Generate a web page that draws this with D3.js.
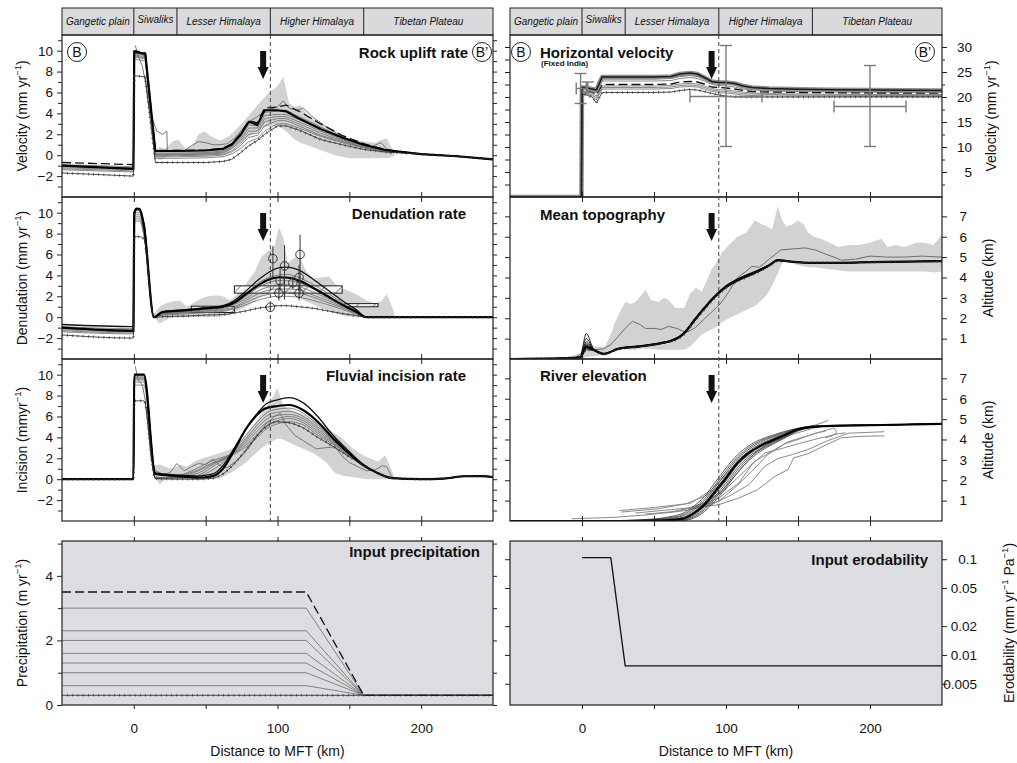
<!DOCTYPE html>
<html>
<head>
<meta charset="utf-8">
<script src="https://cdn.jsdelivr.net/npm/d3@7/dist/d3.min.js"></script>
<style>
  body { margin: 0; background: #fff; }
  svg text { font-family: "Liberation Sans", Arial, Helvetica, sans-serif; fill: #111; }
</style>
</head>
<body>
<script>
// ===================== data =====================
const distDomain = [-50, 250];
const regionBounds = [-50, 0, 30, 95, 160, 250];
const regionNames = ["Gangetic plain", "Siwaliks", "Lesser Himalaya", "Higher Himalaya", "Tibetan Plateau"];
const arrowKm = 90;
const mctKm = 95;

// Rock uplift rate (mm/yr)
const upliftX = [-50, -0.3, 0.3, 8, 15, 30, 50, 62, 68, 74, 80, 86, 91, 100, 106, 115, 130, 145, 160, 175, 200, 225, 250];
const upliftModels = [
  [-0.7, -0.9, 10.0, 9.8, 0.45, 0.45, 0.5, 0.65, 1.1, 2.0, 3.3, 3.1, 4.5, 4.6, 4.8, 4.2, 3.0, 1.9, 1.1, 0.55, 0.1, -0.1, -0.4],
  [-1.0, -1.3, 9.9, 9.7, 0.4, 0.4, 0.45, 0.6, 1.0, 1.9, 3.2, 2.9, 4.3, 4.3, 4.2, 3.5, 2.5, 1.7, 1.0, 0.5, 0.1, -0.1, -0.4],
  [-0.9, -1.1, 9.8, 9.6, 0.2, 0.2, 0.25, 0.4, 0.8, 1.7, 2.9, 2.8, 4.1, 4.2, 4.3, 3.7, 2.7, 1.7, 1.0, 0.5, 0.1, -0.1, -0.4],
  [-1.0, -1.2, 9.7, 9.5, 0.1, 0.1, 0.15, 0.3, 0.7, 1.5, 2.6, 2.6, 3.8, 3.9, 3.9, 3.4, 2.5, 1.6, 0.9, 0.5, 0.1, -0.1, -0.4],
  [-1.1, -1.3, 9.6, 9.4, 0.05, 0.05, 0.1, 0.2, 0.6, 1.3, 2.3, 2.3, 3.5, 3.7, 3.7, 3.2, 2.3, 1.5, 0.9, 0.45, 0.1, -0.1, -0.4],
  [-1.2, -1.4, 9.5, 9.3, -0.05, -0.05, 0.0, 0.1, 0.4, 1.1, 2.0, 2.1, 3.2, 3.5, 3.5, 3.0, 2.1, 1.4, 0.8, 0.4, 0.1, -0.1, -0.4],
  [-1.3, -1.5, 9.4, 9.2, -0.15, -0.15, -0.1, 0.0, 0.3, 0.9, 1.7, 1.9, 2.8, 3.3, 3.3, 2.8, 1.9, 1.3, 0.75, 0.4, 0.1, -0.1, -0.4],
  [-1.4, -1.6, 9.2, 9.0, -0.3, -0.3, -0.25, -0.15, 0.1, 0.6, 1.3, 1.6, 2.3, 3.0, 3.0, 2.6, 1.8, 1.2, 0.7, 0.35, 0.1, -0.1, -0.4],
  [-1.7, -2.0, 7.6, 7.5, -0.7, -0.7, -0.7, -0.6, -0.4, 0.2, 0.9, 1.4, 2.0, 2.8, 2.8, 2.4, 1.5, 1.0, 0.55, 0.3, 0.1, -0.1, -0.4]
];
const upBandX = [15, 18, 22, 27, 31, 36, 41, 45, 49, 54, 60, 66, 70, 75, 80, 85, 90, 95, 100, 104, 108, 112, 116, 120, 126, 132, 140, 150, 160, 168, 173, 176, 179, 182];
const upBandHi = [0.5, 0.8, 0.6, 1.3, 1.5, 0.6, 0.9, 2.0, 2.3, 1.8, 1.4, 1.8, 2.3, 3.0, 3.8, 4.6, 5.4, 6.1, 6.6, 7.5, 5.0, 4.6, 4.8, 4.0, 3.4, 2.8, 2.2, 1.6, 1.3, 1.2, 1.5, 1.6, 0.8, 0.0];
const upBandLo = [0.0, -0.5, -0.2, 0.0, 0.0, -0.1, 0.0, 0.0, 0.0, 0.0, 0.1, 0.4, 0.8, 1.3, 1.8, 2.2, 2.6, 2.8, 2.8, 2.5, 2.0, 1.5, 1.2, 1.0, 0.7, 0.4, 0.0, -0.3, -0.3, -0.3, -0.3, -0.3, -0.2, 0.0];
const upObsX = [1, 3, 6, 8, 11, 16, 20, 23, 23.3, 30, 35, 40, 45, 50, 55, 60, 65, 70, 75, 80, 85, 90, 95, 100, 104, 108, 113, 118, 125, 135, 145, 155, 165, 172, 176, 179];
const upObsY = [10.5, 9.5, 8.5, 7.0, 4.2, 2.3, 2.0, 2.3, 0.4, 0.5, 0.4, 0.9, 1.3, 1.2, 1.0, 1.0, 1.1, 1.6, 2.4, 3.2, 3.6, 4.1, 4.4, 4.6, 5.2, 4.5, 4.3, 4.5, 3.6, 2.6, 1.8, 1.1, 0.8, 1.2, 0.6, 0.1];

// Denudation rate (mm/yr)
const denX = [-50, -0.3, 0.3, 2, 4, 7, 14, 20, 35, 50, 62, 70, 78, 86, 94, 100, 106, 115, 125, 135, 145, 155, 162, 200, 250];
const denModels = [
  [-0.7, -0.9, 9.8, 10.3, 10.4, 9.0, 0.0, 0.5, 0.7, 0.9, 1.1, 1.6, 2.5, 3.5, 4.3, 4.7, 4.8, 4.5, 3.6, 2.6, 1.6, 0.7, 0.0, 0, 0],
  [-1.0, -1.3, 10.0, 10.4, 10.3, 8.8, 0.0, 0.5, 0.65, 0.85, 1.0, 1.4, 2.2, 3.0, 3.6, 3.8, 3.8, 3.5, 2.8, 2.0, 1.2, 0.5, 0.0, 0, 0],
  [-0.9, -1.1, 9.9, 10.2, 10.2, 8.9, 0.0, 0.45, 0.6, 0.8, 1.0, 1.5, 2.3, 3.2, 3.8, 4.0, 4.1, 3.8, 3.1, 2.3, 1.4, 0.6, 0.0, 0, 0],
  [-1.0, -1.2, 9.7, 10.0, 10.0, 8.6, 0.0, 0.4, 0.55, 0.75, 0.9, 1.3, 2.0, 2.8, 3.3, 3.5, 3.5, 3.3, 2.7, 2.0, 1.2, 0.5, 0.0, 0, 0],
  [-1.1, -1.3, 9.5, 9.8, 9.8, 8.4, 0.0, 0.35, 0.5, 0.7, 0.85, 1.2, 1.8, 2.5, 2.9, 3.1, 3.1, 2.9, 2.4, 1.8, 1.1, 0.45, 0.0, 0, 0],
  [-1.2, -1.4, 9.3, 9.6, 9.6, 8.2, 0.0, 0.3, 0.45, 0.6, 0.75, 1.0, 1.6, 2.2, 2.6, 2.7, 2.7, 2.6, 2.1, 1.6, 1.0, 0.4, 0.0, 0, 0],
  [-1.3, -1.5, 9.1, 9.4, 9.4, 8.0, 0.0, 0.25, 0.4, 0.55, 0.65, 0.9, 1.4, 1.9, 2.2, 2.4, 2.4, 2.3, 1.9, 1.4, 0.9, 0.35, 0.0, 0, 0],
  [-1.4, -1.6, 8.9, 9.2, 9.2, 7.8, 0.0, 0.2, 0.3, 0.45, 0.55, 0.8, 1.2, 1.6, 1.9, 2.0, 2.0, 1.9, 1.6, 1.2, 0.75, 0.3, 0.0, 0, 0],
  [-1.7, -2.0, 7.7, 7.7, 7.7, 7.5, 0.0, 0.05, 0.1, 0.2, 0.25, 0.4, 0.6, 0.85, 1.0, 1.1, 1.1, 1.0, 0.85, 0.6, 0.35, 0.15, 0.0, 0, 0]
];
const denBandX = [14, 18, 22, 27, 32, 37, 42, 47, 52, 57, 62, 67, 72, 78, 84, 89, 94, 98, 101, 104, 107, 110, 113, 116, 120, 125, 130, 136, 142, 148, 155, 162, 168, 172, 176, 179, 182];
const denBandHi = [0.3, 1.0, 1.3, 1.5, 1.6, 1.0, 1.4, 1.8, 2.0, 2.1, 2.0, 1.6, 2.2, 3.2, 4.3, 5.8, 6.4, 6.8, 8.6, 7.6, 5.2, 5.5, 5.8, 5.6, 4.4, 3.7, 3.8, 3.9, 2.9, 2.6, 2.2, 1.6, 1.3, 1.5, 2.2, 1.3, 0.0];
const denBandLo = [0.0, -0.6, -0.3, 0.0, 0.0, 0.0, 0.0, 0.0, 0.0, 0.0, 0.1, 0.3, 0.6, 1.0, 1.5, 2.0, 2.3, 2.4, 2.4, 2.4, 2.3, 2.2, 2.0, 1.8, 1.5, 1.2, 0.9, 0.6, 0.3, 0.1, 0.0, 0.0, 0.0, 0.0, 0.0, 0.0, 0.0];
// thermochronology-derived denudation rates
const thermoX = [96.8, 104.9, 115.7, 101.8, 101, 115, 115, 95, 110.7];
const thermoY = [5.6, 4.9, 6.0, 3.5, 2.3, 3.8, 2.3, 0.95, 3.3];
const thermoLo = [3.8, 1.7, 2.2, 2.5, 1.6, 2.6, 1.6, 0.7, 2.7];
const thermoHi = [6.8, 6.9, 7.9, 4.6, 3.2, 5.0, 3.1, 1.2, 3.9];
// long-term denudation ranges (hatched boxes)
const boxX0 = [40, 70, 147];
const boxX1 = [70, 145, 170];
const boxY0 = [0.45, 2.3, 1.0];
const boxY1 = [1.05, 3.0, 1.3];

// Fluvial incision rate (mm/yr)
const incX = [-50, -0.3, 0.3, 7, 15, 30, 45, 55, 62, 70, 78, 86, 92, 100, 108, 118, 128, 138, 148, 158, 168, 180, 200, 215, 230, 242, 250];
const incModels = [
  [0, 0, 10.0, 10.0, 0.6, 0.4, 0.3, 0.5, 1.3, 3.0, 4.8, 6.3, 7.2, 7.6, 7.8, 7.3, 6.0, 4.3, 2.9, 1.6, 0.7, 0.1, 0, 0.05, 0.28, 0.3, 0.2],
  [0, 0, 10.0, 10.0, 0.5, 0.3, 0.15, 0.3, 1.0, 2.8, 4.8, 6.2, 6.8, 7.0, 7.1, 6.6, 5.5, 4.0, 2.7, 1.5, 0.7, 0.1, 0, 0.05, 0.28, 0.3, 0.2],
  [0, 0, 9.8, 9.8, 0.2, 0.1, 0.3, 0.9, 1.6, 2.8, 4.2, 5.5, 6.3, 6.7, 6.8, 6.3, 5.2, 3.9, 2.7, 1.5, 0.7, 0.1, 0, 0.05, 0.28, 0.3, 0.2],
  [0, 0, 9.7, 9.7, 0.1, 0.1, 0.4, 1.2, 1.8, 2.7, 3.9, 5.2, 6.0, 6.4, 6.5, 6.0, 5.0, 3.8, 2.6, 1.5, 0.7, 0.1, 0, 0.05, 0.28, 0.3, 0.2],
  [0, 0, 9.6, 9.6, 0.1, 0.2, 0.6, 1.4, 1.9, 2.6, 3.7, 4.9, 5.7, 6.1, 6.2, 5.8, 4.8, 3.7, 2.6, 1.5, 0.7, 0.1, 0, 0.05, 0.28, 0.3, 0.2],
  [0, 0, 9.5, 9.5, 0.1, 0.3, 0.9, 1.6, 2.0, 2.6, 3.5, 4.6, 5.4, 5.8, 6.0, 5.6, 4.6, 3.6, 2.5, 1.5, 0.7, 0.1, 0, 0.05, 0.28, 0.3, 0.2],
  [0, 0, 9.3, 9.3, 0.1, 0.3, 1.1, 1.8, 2.1, 2.5, 3.3, 4.3, 5.1, 5.6, 5.8, 5.4, 4.4, 3.5, 2.5, 1.5, 0.7, 0.1, 0, 0.05, 0.28, 0.3, 0.2],
  [0, 0, 9.0, 9.0, 0.1, 0.2, 0.8, 1.5, 1.9, 2.4, 3.1, 4.0, 4.8, 5.3, 5.5, 5.2, 4.2, 3.4, 2.4, 1.5, 0.7, 0.1, 0, 0.05, 0.28, 0.3, 0.2],
  [0, 0, 7.5, 7.5, 0.05, 0.0, 0.0, 0.1, 0.5, 1.5, 2.8, 4.2, 5.0, 5.5, 5.4, 4.9, 4.0, 3.2, 2.3, 1.5, 0.7, 0.1, 0, 0.05, 0.28, 0.3, 0.2]
];
const incBandX = [14, 18, 22, 27, 32, 37, 42, 48, 55, 62, 70, 78, 85, 90, 95, 100, 104, 110, 118, 126, 134, 140, 146, 152, 158, 164, 170, 175, 179, 182];
const incBandHi = [1.3, 1.4, 1.2, 1.0, 1.4, 1.2, 1.7, 2.0, 2.3, 2.6, 3.0, 4.2, 5.5, 6.5, 7.4, 8.7, 7.0, 6.6, 6.2, 5.6, 4.9, 4.4, 3.8, 3.0, 2.4, 2.0, 1.7, 2.3, 1.0, 0.0];
const incBandLo = [0.3, -0.5, 0.0, 0.0, 0.0, 0.0, 0.0, 0.0, 0.0, 0.2, 0.8, 1.6, 2.5, 3.1, 3.5, 3.9, 3.8, 3.4, 2.9, 2.4, 1.6, 0.6, 0.3, 0.2, 0.1, 0.0, 0.0, 0.0, 0.0, 0.0];
const incObsX = [1, 3, 6, 8, 12, 15, 20, 25, 30, 35, 40, 45, 50, 55, 60, 65, 70, 75, 80, 86, 92, 98, 102, 106, 112, 120, 127, 133, 140, 145, 150, 156, 162, 168, 173, 176, 180];
const incObsY = [10.8, 9.5, 9.0, 7.5, 2.0, 0.8, 0.5, 0.6, 1.5, 0.8, 1.2, 1.5, 1.4, 1.9, 1.3, 1.1, 1.6, 2.2, 3.0, 4.2, 5.3, 6.0, 6.3, 5.2, 4.2, 3.5, 2.9, 3.0, 3.1, 2.2, 1.6, 1.2, 0.8, 0.9, 1.3, 1.2, 0.1];

// Input precipitation (m/yr)
const precipX = [-50, 120, 160, 250];
const precipRows = [
  [3.5, 3.5, 0.3, 0.3],
  [3.0, 3.0, 0.3, 0.3],
  [2.3, 2.3, 0.3, 0.3],
  [2.0, 2.0, 0.3, 0.3],
  [1.6, 1.6, 0.3, 0.3],
  [1.3, 1.3, 0.3, 0.3],
  [1.0, 1.0, 0.3, 0.3],
  [0.6, 0.6, 0.3, 0.3],
  [0.3, 0.3, 0.3, 0.3]
];

// Horizontal velocity, fixed India (mm/yr)
const hvX = [-50, -0.4, 0, 2, 7, 10, 14, 30, 50, 62, 68, 75, 80, 85, 90, 95, 100, 106, 112, 118, 130, 150, 175, 200, 225, 250];
const hvModels = [
  [0, 0, 21.9, 21.9, 21.6, 21.4, 24.0, 24.0, 24.0, 24.1, 24.6, 24.8, 24.6, 23.9, 23.1, 22.9, 22.9, 22.7, 22.2, 21.9, 21.7, 21.55, 21.45, 21.4, 21.35, 21.3],
  [0, 0, 21.7, 21.7, 21.4, 21.1, 23.6, 23.6, 23.6, 23.7, 24.1, 24.3, 24.1, 23.5, 22.8, 22.6, 22.6, 22.4, 21.9, 21.6, 21.4, 21.3, 21.2, 21.15, 21.1, 21.05],
  [0, 0, 21.5, 21.5, 21.2, 20.8, 23.2, 23.2, 23.2, 23.3, 23.7, 23.9, 23.7, 23.2, 22.5, 22.3, 22.2, 22.0, 21.6, 21.4, 21.2, 21.1, 21.0, 20.95, 20.9, 20.9],
  [0, 0, 21.3, 21.3, 21.0, 20.5, 22.5, 22.5, 22.5, 22.6, 23.0, 23.1, 23.0, 22.6, 22.0, 21.9, 21.8, 21.6, 21.3, 21.1, 21.0, 20.9, 20.85, 20.8, 20.8, 20.8],
  [0, 0, 21.1, 21.1, 20.8, 20.2, 22.2, 22.2, 22.2, 22.3, 22.6, 22.7, 22.6, 22.2, 21.7, 21.5, 21.4, 21.2, 21.0, 20.8, 20.7, 20.6, 20.55, 20.5, 20.5, 20.5],
  [0, 0, 20.9, 20.9, 20.5, 19.8, 21.9, 21.9, 21.9, 22.0, 22.3, 22.4, 22.3, 21.9, 21.4, 21.2, 21.1, 20.9, 20.7, 20.6, 20.5, 20.4, 20.35, 20.3, 20.3, 20.3],
  [0, 0, 20.7, 20.7, 20.3, 19.4, 21.6, 21.6, 21.6, 21.7, 22.0, 22.1, 22.0, 21.6, 21.1, 20.9, 20.8, 20.6, 20.4, 20.3, 20.2, 20.2, 20.15, 20.1, 20.1, 20.1],
  [0, 0, 20.5, 20.5, 20.0, 18.8, 20.9, 20.9, 20.9, 21.0, 21.3, 21.5, 21.4, 21.1, 20.7, 20.4, 20.2, 20.0, 20.0, 20.0, 20.0, 20.0, 20.0, 20.0, 20.0, 20.0]
];
// GPS velocities with error bars
const gpsX = [-1, 4, 100, 200];
const gpsY = [21.7, 22.0, 20.1, 18.1];
const gpsXLo = [-4, 4, 75, 175];
const gpsXHi = [3, 4, 125, 225];
const gpsYLo = [18.7, 21.0, 10.1, 10.1];
const gpsYHi = [24.7, 23.0, 30.3, 26.3];

// Mean topography (km)
const topoX = [-50, -20, -1, 0.5, 3, 8, 15, 25, 40, 55, 62, 68, 72, 78, 85, 92, 100, 110, 120, 130, 136, 145, 160, 180, 200, 225, 250];
const topoModels = [
  [0, 0.02, 0.1, 0.6, 1.25, 0.5, 0.27, 0.52, 0.64, 0.8, 0.92, 1.14, 1.4, 1.95, 2.55, 3.1, 3.6, 4.0, 4.3, 4.62, 4.86, 4.78, 4.72, 4.72, 4.75, 4.78, 4.8],
  [0, 0.02, 0.09, 0.5, 1.0, 0.48, 0.26, 0.51, 0.63, 0.79, 0.91, 1.12, 1.38, 1.93, 2.52, 3.07, 3.58, 3.98, 4.28, 4.61, 4.85, 4.78, 4.72, 4.72, 4.75, 4.78, 4.8],
  [0, 0.02, 0.09, 0.4, 0.85, 0.47, 0.25, 0.5, 0.62, 0.78, 0.9, 1.1, 1.36, 1.91, 2.5, 3.05, 3.56, 3.96, 4.26, 4.6, 4.85, 4.78, 4.72, 4.72, 4.75, 4.78, 4.8],
  [0, 0.02, 0.08, 0.35, 0.75, 0.46, 0.25, 0.5, 0.62, 0.78, 0.9, 1.1, 1.35, 1.9, 2.5, 3.05, 3.55, 3.95, 4.25, 4.6, 4.85, 4.78, 4.72, 4.72, 4.75, 4.78, 4.8],
  [0, 0.02, 0.08, 0.3, 0.62, 0.45, 0.25, 0.5, 0.62, 0.78, 0.9, 1.1, 1.35, 1.9, 2.5, 3.05, 3.55, 3.95, 4.25, 4.6, 4.85, 4.78, 4.72, 4.72, 4.75, 4.78, 4.8],
  [0, 0.02, 0.07, 0.28, 0.58, 0.44, 0.24, 0.49, 0.61, 0.77, 0.89, 1.08, 1.33, 1.88, 2.48, 3.03, 3.53, 3.93, 4.23, 4.59, 4.84, 4.78, 4.72, 4.72, 4.75, 4.78, 4.8],
  [0, 0.02, 0.07, 0.25, 0.55, 0.43, 0.24, 0.49, 0.61, 0.77, 0.88, 1.07, 1.32, 1.87, 2.47, 3.02, 3.52, 3.92, 4.22, 4.58, 4.84, 4.78, 4.72, 4.72, 4.75, 4.78, 4.8],
  [0, 0.02, 0.06, 0.22, 0.5, 0.42, 0.23, 0.48, 0.6, 0.76, 0.87, 1.06, 1.3, 1.85, 2.45, 3.0, 3.5, 3.9, 4.2, 4.57, 4.83, 4.77, 4.72, 4.72, 4.75, 4.78, 4.8],
  [0, 0.02, 0.06, 0.2, 0.45, 0.41, 0.23, 0.48, 0.6, 0.76, 0.87, 1.05, 1.28, 1.83, 2.43, 2.98, 3.48, 3.88, 4.18, 4.56, 4.82, 4.77, 4.72, 4.72, 4.75, 4.78, 4.8]
];
const topoBandX = [-50, -10, 0, 3, 10, 16, 20, 23, 27, 30, 34, 37, 41, 44, 48, 53, 57, 60, 65, 71, 75, 79, 83, 87, 90, 94, 97, 102, 108, 114, 120, 125, 129, 132, 136, 139, 142, 146, 150, 154, 157, 161, 166, 172, 178, 185, 192, 200, 208, 212, 218, 224, 232, 238, 244, 250];
const topoBandHi = [0.05, 0.1, 0.3, 0.8, 0.6, 0.6, 1.2, 1.8, 2.4, 2.8, 2.7, 2.8, 3.1, 3.4, 2.9, 2.8, 3.0, 2.9, 2.5, 2.5, 3.2, 3.5, 3.3, 3.9, 4.4, 4.8, 5.2, 5.6, 6.0, 6.2, 6.8, 6.6, 6.5, 6.35, 7.5, 6.8, 6.5, 6.6, 6.8, 6.6, 6.2, 6.0, 5.9, 5.7, 5.5, 5.6, 5.6, 5.7, 5.9, 5.5, 5.6, 5.5, 5.7, 5.7, 5.6, 6.1];
const topoBandLo = [0, 0, 0.05, 0.1, 0.15, 0.3, 0.45, 0.5, 0.5, 0.5, 0.45, 0.45, 0.5, 0.5, 0.5, 0.45, 0.45, 0.45, 0.45, 0.45, 0.6, 0.9, 1.2, 1.35, 1.45, 1.6, 1.8, 2.0, 2.2, 2.4, 2.6, 2.9, 3.2, 3.6, 4.2, 4.7, 4.9, 4.7, 4.6, 4.55, 4.5, 4.5, 4.45, 4.4, 4.35, 4.3, 4.3, 4.3, 4.3, 4.3, 4.3, 4.3, 4.3, 4.3, 4.25, 4.3];
const topoObsX = [-50, -5, 0, 3, 8, 15, 20, 25, 30, 35, 40, 44, 50, 55, 60, 66, 72, 78, 84, 90, 96, 102, 108, 114, 118, 123, 130, 138, 146, 155, 162, 169, 175, 180, 190, 200, 212, 224, 236, 250];
const topoObsY = [0.02, 0.05, 0.3, 0.7, 0.45, 0.5, 0.7, 1.1, 1.5, 1.85, 1.7, 1.5, 1.5, 1.45, 1.6, 1.5, 1.3, 1.5, 1.9, 2.3, 2.7, 3.3, 4.0, 4.3, 4.55, 4.5, 4.9, 5.35, 5.4, 5.45, 5.35, 5.15, 5.0, 4.85, 4.9, 5.05, 5.0, 5.0, 5.05, 5.0];

// River elevation (km)
const riverX = [-50, 0, 30, 50, 60, 70, 78, 85, 92, 100, 108, 116, 124, 132, 140, 150, 160, 170, 180, 200, 250];
const riverModels = [
  [0, 0, 0.03, 0.1, 0.2, 0.38, 0.75, 1.2, 1.85, 2.6, 3.25, 3.7, 4.0, 4.2, 4.38, 4.55, 4.64, 4.67, 4.69, 4.71, 4.77],
  [0, 0, 0.02, 0.08, 0.16, 0.31, 0.65, 1.08, 1.72, 2.47, 3.14, 3.61, 3.94, 4.15, 4.34, 4.54, 4.63, 4.67, 4.69, 4.71, 4.77],
  [0, 0, 0.01, 0.06, 0.12, 0.25, 0.56, 0.98, 1.6, 2.35, 3.05, 3.53, 3.87, 4.1, 4.3, 4.53, 4.63, 4.66, 4.68, 4.7, 4.77],
  [0, 0, 0, 0.04, 0.08, 0.18, 0.48, 0.89, 1.5, 2.22, 2.95, 3.44, 3.79, 4.03, 4.25, 4.51, 4.62, 4.66, 4.68, 4.7, 4.77],
  [0, 0, 0, 0.02, 0.05, 0.12, 0.4, 0.8, 1.4, 2.1, 2.85, 3.35, 3.7, 3.95, 4.2, 4.5, 4.62, 4.66, 4.68, 4.7, 4.77],
  [0, 0, 0, 0.01, 0.03, 0.09, 0.33, 0.71, 1.29, 1.98, 2.74, 3.26, 3.63, 3.9, 4.16, 4.48, 4.61, 4.66, 4.68, 4.7, 4.77],
  [0, 0, 0, 0, 0.02, 0.06, 0.27, 0.62, 1.18, 1.86, 2.62, 3.17, 3.56, 3.85, 4.12, 4.46, 4.6, 4.65, 4.68, 4.7, 4.77],
  [0, 0, 0, 0, 0.01, 0.04, 0.21, 0.54, 1.07, 1.74, 2.5, 3.08, 3.49, 3.8, 4.08, 4.44, 4.6, 4.65, 4.68, 4.7, 4.77],
  [0, 0, 0, 0, 0, 0.02, 0.15, 0.46, 0.96, 1.62, 2.38, 2.98, 3.42, 3.75, 4.04, 4.42, 4.59, 4.65, 4.68, 4.7, 4.77]
];
// measured river long profiles: distances and elevations
const profile1X = [26, 51, 72, 85, 95, 106, 118, 132, 146, 158, 161];
const profile1Y = [0.51, 0.67, 0.84, 1.21, 1.70, 2.69, 3.42, 4.0, 4.38, 4.65, 4.70];
const profile2X = [27.5, 53, 76, 90, 102, 113, 127, 141, 155, 170, 171];
const profile2Y = [0.44, 0.6, 0.89, 1.54, 2.44, 3.26, 3.79, 4.25, 4.54, 4.9, 4.98];
const profile3X = [-7, 23, 46, 67, 85, 97, 109, 120, 132, 143, 160, 175, 177, 173, 169];
const profile3Y = [0.11, 0.18, 0.31, 0.47, 0.89, 1.38, 2.19, 2.93, 3.42, 3.89, 4.25, 4.57, 4.33, 4.16, 4.08];
const profile4X = [37, 62, 85, 95, 109, 122, 134, 143, 147, 157, 169, 180, 192, 210];
const profile4Y = [0.39, 0.56, 0.72, 0.8, 1.13, 1.54, 2.19, 2.52, 3.1, 3.3, 3.72, 4.08, 4.15, 4.18];
const profile5X = [44, 72, 90, 104, 116, 127, 136, 146, 157, 171, 185, 210];
const profile5Y = [0.34, 0.51, 0.8, 1.29, 1.79, 2.69, 3.06, 3.26, 3.51, 3.95, 4.31, 4.38];
const profile6X = [76, 95, 109, 118, 127, 139, 150, 164, 178, 183];
const profile6Y = [0.6, 1.13, 1.87, 2.77, 3.34, 3.56, 3.79, 4.05, 4.28, 4.33];
const profile7X = [85, 97, 109, 120, 132, 146, 157, 164];
const profile7Y = [0.89, 1.46, 2.44, 3.34, 3.89, 4.25, 4.48, 4.61];
const profile8X = [58, 81, 95, 106, 118, 129, 141, 150, 162, 169];
const profile8Y = [0.39, 0.72, 0.97, 1.62, 2.44, 3.26, 3.79, 4.0, 4.31, 4.41];

// Input erodability (mm/yr/Pa)
const erodX = [0, 20, 30, 250];
const erodY = [0.104, 0.104, 0.0077, 0.0077];

// Axis ticks
const distTicks = [0, 100, 200];
const distMinor = [50, 150];
const rateTicks = [-2, 0, 2, 4, 6, 8, 10];
const rateMinor = [-3, -1, 1, 3, 5, 7, 9, 11];
const rateAll = [-3, -2, -1, 0, 1, 2, 3, 4, 5, 6, 7, 8, 9, 10, 11];
const precipTicks = [0, 2, 4];
const precipMinor = [1, 3, 5];
const hvTicks = [5, 10, 15, 20, 25, 30];
const hvMinor = [2.5, 7.5, 12.5, 17.5, 22.5, 27.5];
const altTicks = [1, 2, 3, 4, 5, 6, 7];
const erodTicks = [0.005, 0.01, 0.02, 0.05, 0.1];
const erodTickLabels = ["0.005", "0.01", "0.02", "0.05", "0.1"];

// ===================== drawing =====================
const W = 1017, H = 763;
const colL = [62, 493], colR = [510, 942];
const rowY = [[35, 197], [197, 359], [359, 521], [541, 705]];
const headerY = [8, 35];
const BAND = "#d1d2d4";
const PANEL_BG = "#dcdde0";
const intFmt = d3.format("d");

const svg = d3.select("body").append("svg").attr("width", W).attr("height", H);
const defs = svg.append("defs");
const hatch = defs.append("pattern").attr("id", "hatch")
  .attr("patternUnits", "userSpaceOnUse").attr("width", 12).attr("height", 12)
  .attr("patternTransform", "rotate(45)");
hatch.append("rect").attr("width", 12).attr("height", 12).attr("fill", "#fff").attr("fill-opacity", 0.75);
hatch.append("line").attr("x1", 0).attr("y1", 0).attr("x2", 0).attr("y2", 12)
  .attr("stroke", "#222").attr("stroke-width", 1);

let clipCount = 0;
function makePanel(xr, yr, yDomain, log) {
  const x = d3.scaleLinear().domain(distDomain).range(xr);
  const y = (log ? d3.scaleLog() : d3.scaleLinear()).domain(yDomain).range([yr[1], yr[0]]);
  const id = "clip" + (clipCount++);
  defs.append("clipPath").attr("id", id).append("rect")
    .attr("x", xr[0]).attr("y", yr[0]).attr("width", xr[1] - xr[0]).attr("height", yr[1] - yr[0]);
  const g = svg.append("g").attr("clip-path", `url(#${id})`);
  return { x, y, g, xr, yr };
}

function background(p, color) {
  p.g.append("rect").attr("x", p.xr[0]).attr("y", p.yr[0])
    .attr("width", p.xr[1] - p.xr[0]).attr("height", p.yr[1] - p.yr[0]).attr("fill", color);
}

function band(p, xs, lo, hi) {
  const area = d3.area().x(d => p.x(d)).y0((d, i) => p.y(lo[i])).y1((d, i) => p.y(hi[i]));
  p.g.append("path").datum(xs).attr("d", area).attr("fill", BAND);
}

function thinLine(p, xs, ys, color, w) {
  const gen = d3.line().x((d, i) => p.x(xs[i])).y(d => p.y(d));
  p.g.append("path").datum(ys).attr("d", gen).attr("fill", "none")
    .attr("stroke", color).attr("stroke-width", w).attr("stroke-linejoin", "round");
}

const STYLE = {
  thin: { stroke: "#6b6b6b", w: 0.8 },
  dark: { stroke: "#3a3a3a", w: 0.8 },
  black: { stroke: "#111", w: 0.9 },
  dash: { stroke: "#111", w: 1.3, dash: "9,4" },
  thick: { stroke: "#000", w: 2.2 },
  solid: { stroke: "#111", w: 1.3 }
};
const drawOrder = ["thin", "dark", "black", "solid", "dash", "halo", "thick", "tick"];
function family(p, xs, rows, styles, curve) {
  const gen = d3.line().x((d, i) => p.x(xs[i])).y(d => p.y(d)).curve(curve || d3.curveLinear);
  drawOrder.forEach(kind => rows.forEach((r, i) => {
    if (styles[i] !== kind) return;
    const d = gen(r);
    const add = () => p.g.append("path").attr("d", d).attr("fill", "none").attr("stroke-linejoin", "round");
    if (kind === "halo") {
      add().attr("stroke", "#8f8f8f").attr("stroke-width", 4.5);
      add().attr("stroke", "#1a1a1a").attr("stroke-width", 1.6);
    } else if (kind === "tick") {
      add().attr("stroke", "#222").attr("stroke-width", 0.8);
      add().attr("stroke", "#333").attr("stroke-width", 2.6).attr("stroke-dasharray", "0.7,4.5");
    } else {
      const s = STYLE[kind];
      const path = add().attr("stroke", s.stroke).attr("stroke-width", s.w);
      if (s.dash) path.attr("stroke-dasharray", s.dash);
    }
  }));
}

function frame(p) {
  svg.append("rect").attr("x", p.xr[0]).attr("y", p.yr[0])
    .attr("width", p.xr[1] - p.xr[0]).attr("height", p.yr[1] - p.yr[0])
    .attr("fill", "none").attr("stroke", "#222").attr("stroke-width", 1.2);
}

function styleAxis(g, size) {
  g.select(".domain").remove();
  g.attr("font-size", size || 13.5).attr("font-family", null);
  g.selectAll("line").attr("stroke", "#222").attr("stroke-width", 1);
  g.selectAll("text").attr("fill", "#111");
}

function axisAt(axis, tx, ty, size) {
  const g = svg.append("g").attr("transform", `translate(${tx},${ty})`).call(axis);
  styleAxis(g, size);
  return g;
}

function arrow(p, km) {
  const cx = p.x(km), t = p.yr[0] + 16;
  const pts = [[cx - 3, t], [cx + 3, t], [cx + 3, t + 16], [cx + 5.5, t + 16], [cx, t + 28], [cx - 5.5, t + 16], [cx - 3, t + 16]];
  svg.append("path").attr("d", d3.line()(pts) + "Z").attr("fill", "#111");
}

function title(x, y, txt, anchor, size) {
  svg.append("text").attr("x", x).attr("y", y).attr("text-anchor", anchor)
    .attr("font-size", size || 15).attr("font-weight", "bold").text(txt);
}

function circled(cx, cy, txt) {
  svg.append("circle").attr("cx", cx).attr("cy", cy).attr("r", 9.5)
    .attr("fill", "#fff").attr("stroke", "#222").attr("stroke-width", 1);
  svg.append("text").attr("x", cx).attr("y", cy + 5).attr("text-anchor", "middle")
    .attr("font-size", 14).text(txt);
}

// rotated axis title; parts are [text, isSuperscript]
function yTitle(cx, cy, parts) {
  const t = svg.append("text").attr("transform", `translate(${cx + 5},${cy}) rotate(-90)`)
    .attr("text-anchor", "middle").attr("font-size", 14);
  let raised = false;
  parts.forEach(([s, sup]) => {
    const ts = t.append("tspan").text(s);
    if (sup && !raised) { ts.attr("font-size", 9.5).attr("dy", -6); raised = true; }
    else if (!sup && raised) { ts.attr("dy", 6); raised = false; }
    else if (sup) ts.attr("font-size", 9.5);
  });
}

function header(xr) {
  const x = d3.scaleLinear().domain(distDomain).range(xr);
  svg.append("rect").attr("x", xr[0]).attr("y", headerY[0]).attr("width", xr[1] - xr[0])
    .attr("height", headerY[1] - headerY[0]).attr("fill", "#dadadc").attr("stroke", "#222").attr("stroke-width", 1);
  regionBounds.slice(1, -1).forEach(b => {
    svg.append("line").attr("x1", x(b)).attr("x2", x(b)).attr("y1", headerY[0]).attr("y2", headerY[1])
      .attr("stroke", "#222").attr("stroke-width", 1);
  });
  regionNames.forEach((n, i) => {
    svg.append("text").attr("x", (x(regionBounds[i]) + x(regionBounds[i + 1])) / 2)
      .attr("y", i === 1 ? 23 : 25).attr("text-anchor", "middle")
      .attr("font-size", 10).attr("font-style", "italic").text(n);
  });
}

function mctLine(p) {
  svg.append("line").attr("x1", p.x(mctKm)).attr("x2", p.x(mctKm))
    .attr("y1", rowY[0][0]).attr("y2", rowY[2][1])
    .attr("stroke", "#444").attr("stroke-width", 1).attr("stroke-dasharray", "4,3");
}

// x ticks crossing a panel boundary
function crossTicks(p, yPix) {
  axisAt(d3.axisBottom(p.x).tickValues(distTicks.concat(distMinor)).tickSize(5).tickFormat(""), 0, yPix);
  axisAt(d3.axisTop(p.x).tickValues(distTicks.concat(distMinor)).tickSize(5).tickFormat(""), 0, yPix);
}

// ---------- left column ----------
header(colL);
header(colR);

const pU = makePanel(colL, rowY[0], [-4, 11.5]);
band(pU, upBandX, upBandLo, upBandHi);
thinLine(pU, upObsX, upObsY, "#777", 1);
family(pU, upliftX, upliftModels, ["dash", "thick", "thin", "thin", "thin", "thin", "thin", "thin", "tick"]);

const pD = makePanel(colL, rowY[1], [-4, 11.5]);
band(pD, denBandX, denBandLo, denBandHi);
boxX0.forEach((x0, i) => {
  pD.g.append("rect").attr("x", pD.x(x0)).attr("y", pD.y(boxY1[i]))
    .attr("width", pD.x(boxX1[i]) - pD.x(x0)).attr("height", pD.y(boxY0[i]) - pD.y(boxY1[i]))
    .attr("fill", "url(#hatch)").attr("stroke", "#222").attr("stroke-width", 1);
});
family(pD, denX, denModels, ["solid", "thick", "thin", "thin", "thin", "thin", "thin", "thin", "tick"], d3.curveMonotoneX);
thermoX.forEach((tx, i) => {
  pD.g.append("line").attr("x1", pD.x(tx)).attr("x2", pD.x(tx))
    .attr("y1", pD.y(thermoLo[i])).attr("y2", pD.y(thermoHi[i])).attr("stroke", "#333").attr("stroke-width", 1);
  pD.g.append("circle").attr("cx", pD.x(tx)).attr("cy", pD.y(thermoY[i])).attr("r", 4.3)
    .attr("fill", "none").attr("stroke", "#222").attr("stroke-width", 0.9);
});

const pI = makePanel(colL, rowY[2], [-4, 11.5]);
band(pI, incBandX, incBandLo, incBandHi);
thinLine(pI, incObsX, incObsY, "#777", 1);
family(pI, incX, incModels, ["solid", "thick", "thin", "thin", "thin", "thin", "thin", "thin", "tick"], d3.curveMonotoneX);

const pP = makePanel(colL, rowY[3], [0, 5.08]);
background(pP, PANEL_BG);
family(pP, precipX, precipRows, ["dash", "thin", "thin", "thin", "thin", "thin", "thin", "thin", "tick"]);

// ---------- right column ----------
const pH = makePanel(colR, rowY[0], [0, 32.4]);
family(pH, hvX, hvModels, ["halo", "dark", "thin", "dash", "thin", "thin", "thin", "tick"]);
gpsX.forEach((gx, i) => {
  const ln = (x1, y1, x2, y2) => pH.g.append("line").attr("x1", x1).attr("y1", y1).attr("x2", x2).attr("y2", y2)
    .attr("stroke", "#7a7a7a").attr("stroke-width", 1.4);
  const cx = pH.x(gx), cy = pH.y(gpsY[i]);
  const yl = pH.y(gpsYLo[i]), yh = pH.y(gpsYHi[i]);
  ln(cx, yl, cx, yh);
  ln(cx - 6, yl, cx + 6, yl);
  ln(cx - 6, yh, cx + 6, yh);
  if (gpsXHi[i] > gpsXLo[i]) {
    const xl = pH.x(gpsXLo[i]), xh = pH.x(gpsXHi[i]);
    ln(xl, cy, xh, cy);
    ln(xl, cy - 6, xl, cy + 6);
    ln(xh, cy - 6, xh, cy + 6);
  }
});

const pT = makePanel(colR, rowY[1], [0, 7.95]);
band(pT, topoBandX, topoBandLo, topoBandHi);
thinLine(pT, topoObsX, topoObsY, "#6e6e6e", 1);
family(pT, topoX, topoModels, ["black", "black", "black", "black", "thick", "black", "black", "black", "tick"], d3.curveMonotoneX);

const pR = makePanel(colR, rowY[2], [0, 7.95]);
[[profile1X, profile1Y], [profile2X, profile2Y], [profile3X, profile3Y], [profile4X, profile4Y],
 [profile5X, profile5Y], [profile6X, profile6Y], [profile7X, profile7Y], [profile8X, profile8Y]]
  .forEach(([xs, ys]) => thinLine(pR, xs, ys, "#8a8a8a", 1));
family(pR, riverX, riverModels, ["dark", "dark", "dark", "dark", "thick", "dark", "dark", "dark", "dark"], d3.curveMonotoneX);

const pE = makePanel(colR, rowY[3], [0.003, 0.155], true);
background(pE, PANEL_BG);
thinLine(pE, erodX, erodY, "#111", 1.3);

// ---------- frames, axes, annotations ----------
[pU, pD, pI, pP, pH, pT, pR, pE].forEach(frame);
[pU, pD, pI, pH, pT, pR].forEach(p => crossTicks(p, p.yr[1]));

// left column y axes
[pU, pD, pI].forEach(p => {
  axisAt(d3.axisLeft(p.y).tickValues(rateTicks).tickSize(5).tickPadding(4).tickFormat(intFmt), colL[0], 0);
  axisAt(d3.axisLeft(p.y).tickValues(rateMinor).tickSize(4).tickFormat(""), colL[0], 0);
  axisAt(d3.axisRight(p.y).tickValues(rateAll).tickSize(4).tickFormat(""), colL[1], 0);
});
axisAt(d3.axisLeft(pP.y).tickValues(precipTicks).tickSize(5).tickPadding(4).tickFormat(intFmt), colL[0], 0);
axisAt(d3.axisLeft(pP.y).tickValues(precipMinor).tickSize(4).tickFormat(""), colL[0], 0);
axisAt(d3.axisRight(pP.y).tickValues(precipTicks.concat(precipMinor)).tickSize(4).tickFormat(""), colL[1], 0);

// right column y axes (labels right-aligned)
function rightAxis(p, ticks, labelEnd, fmt) {
  const ax = d3.axisRight(p.y).tickValues(ticks).tickSize(5).tickPadding(4).tickFormat(fmt || intFmt);
  const g = axisAt(ax, colR[1], 0);
  g.selectAll("text").attr("text-anchor", "end").attr("x", labelEnd);
}
rightAxis(pH, hvTicks, 30);
axisAt(d3.axisRight(pH.y).tickValues(hvMinor).tickSize(3).tickFormat(""), colR[1], 0);
axisAt(d3.axisLeft(pH.y).tickValues(hvTicks.concat(hvMinor)).tickSize(5).tickFormat(""), colR[0], 0);
[pT, pR].forEach(p => {
  rightAxis(p, altTicks, 25);
  axisAt(d3.axisLeft(p.y).tickValues(altTicks).tickSize(5).tickFormat(""), colR[0], 0);
});
rightAxis(pE, erodTicks, 35, (d, i) => erodTickLabels[i]);
axisAt(d3.axisLeft(pE.y).tickValues(erodTicks).tickSize(5).tickFormat(""), colR[0], 0);

// bottom distance axes
[pP, pE].forEach(p => {
  axisAt(d3.axisBottom(p.x).tickValues(distTicks).tickSize(4).tickPadding(14).tickFormat(intFmt), 0, p.yr[1]);
  axisAt(d3.axisBottom(p.x).tickValues(distMinor).tickSize(4).tickFormat(""), 0, p.yr[1]);
  axisAt(d3.axisTop(p.x).tickValues(distTicks.concat(distMinor)).tickSize(4).tickFormat(""), 0, p.yr[0]);
  svg.append("text").attr("x", (p.xr[0] + p.xr[1]) / 2).attr("y", 756).attr("text-anchor", "middle")
    .attr("font-size", 14).text("Distance to MFT (km)");
});

// deformation front markers
[pU, pH].forEach(mctLine);
[pU, pD, pI, pH, pT, pR].forEach(p => arrow(p, arrowKm));

// panel titles
title(468, 58, "Rock uplift rate", "end");
title(466, 219, "Denudation rate", "end");
title(466, 381, "Fluvial incision rate", "end");
title(480, 557, "Input precipitation", "end");
title(540, 58, "Horizontal velocity", "start");
title(541, 66, "(Fixed India)", "start", 8);
title(540, 220, "Mean topography", "start");
title(540, 381, "River elevation", "start");
title(928, 565, "Input erodability", "end");

circled(77, 52, "B");
circled(482, 52, "B\u2019");
circled(521, 52, "B");
circled(925, 52, "B\u2019");

// axis titles
yTitle(22, 116, [["Velocity (mm yr", false], ["\u22121", true], [")", false]]);
yTitle(22, 278, [["Denudation (mm yr", false], ["\u22121", true], [")", false]]);
yTitle(22, 440, [["Incision (mmyr", false], ["\u22121", true], [")", false]]);
yTitle(22, 623, [["Precipitation (m yr", false], ["\u22121", true], [")", false]]);
yTitle(991, 116, [["Velocity (mm yr", false], ["\u22121", true], [")", false]]);
yTitle(988, 278, [["Altitude (km)", false]]);
yTitle(988, 440, [["Altitude (km)", false]]);
yTitle(1009, 623, [["Erodability (mm yr", false], ["\u22121", true], [" Pa", false], ["\u22121", true], [")", false]]);
</script>
</body>
</html>
